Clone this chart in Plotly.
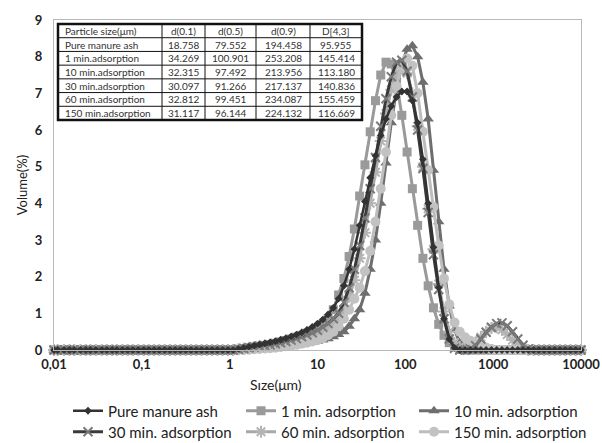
import plotly.graph_objects as go

# ---------------- data ----------------
size_um = [
    0.010, 0.011, 0.013, 0.015, 0.017, 0.020, 0.023, 0.026, 0.030, 0.035,
    0.040, 0.046, 0.052, 0.060, 0.069, 0.079, 0.091, 0.105, 0.120, 0.138,
    0.158, 0.182, 0.209, 0.240, 0.275, 0.316, 0.363, 0.417, 0.479, 0.550,
    0.631, 0.724, 0.832, 0.955, 1.096, 1.259, 1.445, 1.660, 1.905, 2.188,
    2.512, 2.884, 3.311, 3.802, 4.365, 5.012, 5.754, 6.607, 7.586, 8.710,
    10.000, 11.482, 13.183, 15.136, 17.378, 19.953, 22.909, 26.303, 30.200, 34.674,
    39.811, 45.709, 52.481, 60.256, 69.183, 79.433, 91.201, 104.713, 120.226, 138.038,
    158.489, 181.970, 208.930, 239.883, 275.423, 316.228, 363.078, 416.869, 478.630, 549.541,
    630.957, 724.436, 831.764, 954.993, 1096.478, 1258.925, 1445.440, 1659.587, 1905.461, 2187.762,
    2511.886, 2884.032, 3311.311, 3801.894, 4365.158, 5011.872, 5754.399, 6606.934, 7585.776, 8709.636,
    10000.000,
]

pure_manure_ash = [
    0, 0, 0, 0, 0, 0, 0, 0, 0, 0,
    0, 0, 0, 0, 0, 0, 0, 0, 0, 0,
    0, 0, 0, 0, 0, 0, 0, 0, 0, 0,
    0, 0, 0, 0, 0, 0.03, 0.06, 0.09, 0.12, 0.15,
    0.18, 0.21, 0.24, 0.28, 0.32, 0.37, 0.42, 0.48, 0.55, 0.63,
    0.72, 0.83, 0.97, 1.15, 1.40, 1.75, 2.20, 2.75, 3.40, 4.05,
    4.70, 5.30, 5.85, 6.30, 6.65, 6.90, 7.05, 7.05, 6.80, 6.20,
    5.20, 4.00, 2.80, 1.70, 0.85, 0.30, 0.06, 0, 0, 0,
    0, 0, 0, 0, 0, 0, 0, 0, 0, 0,
    0, 0, 0, 0, 0, 0, 0, 0, 0, 0,
    0,
]

ads_1min = [
    0, 0, 0, 0, 0, 0, 0, 0, 0, 0,
    0, 0, 0, 0, 0, 0, 0, 0, 0, 0,
    0, 0, 0, 0, 0, 0, 0, 0, 0, 0,
    0, 0, 0, 0, 0, 0.02, 0.04, 0.06, 0.08, 0.10,
    0.12, 0.15, 0.18, 0.22, 0.26, 0.30, 0.35, 0.40, 0.46, 0.52,
    0.60, 0.70, 0.85, 1.10, 1.50, 1.95, 2.55, 3.30, 4.20, 5.05,
    5.95, 6.80, 7.50, 7.85, 7.80, 7.30, 6.40, 5.40, 4.40, 3.40,
    2.50, 1.75, 1.15, 0.70, 0.40, 0.20, 0.08, 0.02, 0, 0,
    0, 0, 0, 0, 0, 0, 0, 0, 0, 0,
    0, 0, 0, 0, 0, 0, 0, 0, 0, 0,
    0,
]

ads_10min = [
    0, 0, 0, 0, 0, 0, 0, 0, 0, 0,
    0, 0, 0, 0, 0, 0, 0, 0, 0, 0,
    0, 0, 0, 0, 0, 0, 0, 0, 0, 0,
    0, 0, 0, 0, 0, 0, 0, 0, 0.01, 0.02,
    0.03, 0.04, 0.05, 0.07, 0.09, 0.11, 0.13, 0.15, 0.18, 0.21,
    0.24, 0.27, 0.31, 0.36, 0.42, 0.50, 0.65, 0.85, 1.10, 1.55,
    2.20, 3.00, 4.00, 5.10, 6.20, 7.10, 7.80, 8.20, 8.30, 8.00,
    7.30, 6.30, 4.90, 3.50, 2.20, 1.20, 0.55, 0.20, 0.05, 0,
    0, 0, 0, 0, 0, 0, 0, 0, 0, 0,
    0, 0, 0, 0, 0, 0, 0, 0, 0, 0,
    0,
]

ads_30min = [
    0, 0, 0, 0, 0, 0, 0, 0, 0, 0,
    0, 0, 0, 0, 0, 0, 0, 0, 0, 0,
    0, 0, 0, 0, 0, 0, 0, 0, 0, 0,
    0, 0, 0, 0, 0, 0.02, 0.04, 0.06, 0.08, 0.10,
    0.12, 0.14, 0.17, 0.20, 0.23, 0.27, 0.31, 0.36, 0.41, 0.47,
    0.54, 0.62, 0.72, 0.85, 1.00, 1.30, 1.70, 2.20, 2.85, 3.60,
    4.40, 5.25, 6.10, 6.85, 7.45, 7.85, 7.90, 7.60, 6.90, 6.00,
    4.95, 3.75, 2.60, 1.65, 0.85, 0.30, 0.05, 0, 0, 0.03,
    0.12, 0.30, 0.48, 0.62, 0.72, 0.74, 0.66, 0.50, 0.30, 0.13,
    0.03, 0, 0, 0, 0, 0, 0, 0, 0, 0,
    0,
]

ads_60min = [
    0, 0, 0, 0, 0, 0, 0, 0, 0, 0,
    0, 0, 0, 0, 0, 0, 0, 0, 0, 0,
    0, 0, 0, 0, 0, 0, 0, 0, 0, 0,
    0, 0, 0, 0, 0, 0.02, 0.04, 0.06, 0.08, 0.10,
    0.12, 0.14, 0.16, 0.19, 0.22, 0.25, 0.29, 0.33, 0.37, 0.41,
    0.45, 0.52, 0.60, 0.70, 0.85, 1.10, 1.45, 1.90, 2.50, 3.20,
    4.00, 4.85, 5.70, 6.45, 7.10, 7.55, 7.70, 7.55, 7.00, 6.10,
    5.00, 3.85, 2.75, 1.80, 1.05, 0.50, 0.20, 0.08, 0.05, 0.10,
    0.20, 0.35, 0.50, 0.60, 0.62, 0.55, 0.42, 0.27, 0.13, 0.04,
    0, 0, 0, 0, 0, 0, 0, 0, 0, 0,
    0,
]

ads_150min = [
    0, 0, 0, 0, 0, 0, 0, 0, 0, 0,
    0, 0, 0, 0, 0, 0, 0, 0, 0, 0,
    0, 0, 0, 0, 0, 0, 0, 0, 0, 0,
    0, 0, 0, 0, 0, 0, 0, 0.01, 0.02, 0.03,
    0.04, 0.05, 0.06, 0.08, 0.10, 0.12, 0.14, 0.17, 0.20, 0.23,
    0.27, 0.32, 0.40, 0.50, 0.65, 0.85, 1.10, 1.40, 1.70, 2.15,
    2.70, 3.50, 4.40, 5.40, 6.40, 7.20, 7.75, 7.95, 7.75, 7.00,
    5.95, 4.90, 3.90, 2.85, 1.95, 1.25, 0.75, 0.50, 0.35, 0.25,
    0.18, 0.12, 0.07, 0.03, 0, 0, 0, 0, 0, 0,
    0, 0, 0, 0, 0, 0, 0, 0, 0, 0,
    0,
]

series_names = ["Pure manure ash", "1 min. adsorption", "10 min. adsorption",
                "30 min. adsorption", "60 min. adsorption", "150 min. adsorption"]

x_tickvals = [0.01, 0.1, 1, 10, 100, 1000, 10000]
x_ticktext = ["0,01", "0,1", "1", "10", "100", "1000", "10000"]
y_tickvals = [0, 1, 2, 3, 4, 5, 6, 7, 8, 9]

table_header = ["Particle size(μm)", "d(0.1)", "d(0.5)", "d(0.9)", "D[4,3]"]
table_names = ["Pure manure ash", "1 min.adsorption", "10 min.adsorption",
               "30 min.adsorption", "60 min.adsorption", "150 min.adsorption"]
table_d01 = ["18.758", "34.269", "32.315", "30.097", "32.812", "31.117"]
table_d05 = ["79.552", "100.901", "97.492", "91.266", "99.451", "96.144"]
table_d09 = ["194.458", "253.208", "213.956", "217.137", "234.087", "224.132"]
table_d43 = ["95.955", "145.414", "113.180", "140.836", "155.459", "116.669"]

# ---------------- layout geometry (pixels) ----------------
W, H = 602, 443
PL, PR, PT, PB = 54, 581, 20, 350   # plot area
FONT = "Lato, 'Open Sans', sans-serif"


def px_x(px):
    return (px - PL) / (PR - PL)


def px_y(py):
    return (PB - py) / (PB - PT)


fig = go.Figure()

styles = {
    "1 min. adsorption": dict(line=dict(color="#9a9a9a", width=3),
                              marker=dict(symbol="square", size=9, color="#9a9a9a")),
    "10 min. adsorption": dict(line=dict(color="#6e6e6e", width=3),
                               marker=dict(symbol="triangle-up", size=10, color="#6e6e6e")),
    "60 min. adsorption": dict(line=dict(color="#a8a8a8", width=3),
                               marker=dict(symbol="asterisk-open", size=10, color="#b4b4b4",
                                           line=dict(color="#b4b4b4", width=2))),
    "150 min. adsorption": dict(line=dict(color="#bdbdbd", width=3),
                                marker=dict(symbol="circle", size=10, color="#c2c2c2")),
    "30 min. adsorption": dict(line=dict(color="#3a3a3a", width=3),
                               marker=dict(symbol="x-thin-open", size=9, color="#7a7a7a",
                                           line=dict(color="#7a7a7a", width=2))),
    "Pure manure ash": dict(line=dict(color="#333333", width=2.5),
                            marker=dict(symbol="diamond", size=6, color="#333333")),
}
data_map = {
    "Pure manure ash": pure_manure_ash,
    "1 min. adsorption": ads_1min,
    "10 min. adsorption": ads_10min,
    "30 min. adsorption": ads_30min,
    "60 min. adsorption": ads_60min,
    "150 min. adsorption": ads_150min,
}
draw_order = ["1 min. adsorption", "10 min. adsorption", "60 min. adsorption",
              "150 min. adsorption", "30 min. adsorption", "Pure manure ash"]
row1 = series_names[:3]

for name in draw_order:
    st = styles[name]
    fig.add_trace(go.Scatter(
        x=size_um, y=data_map[name], name=name, mode="lines+markers",
        line=st["line"], marker=st["marker"], cliponaxis=False,
        legendrank=series_names.index(name) + 1,
        legend="legend" if name in row1 else "legend2",
    ))

axis_font = dict(family=FONT, size=13, color="#222222", weight="bold")
fig.update_xaxes(type="log", range=[-2, 4], tickvals=x_tickvals, ticktext=x_ticktext,
                 showgrid=False, zeroline=False, showline=True, mirror=True,
                 linecolor="#b8b8b8", linewidth=1, ticks="", tickfont=axis_font,
                 ticklabelstandoff=2, automargin=False)
fig.update_yaxes(range=[0, 9], tickvals=y_tickvals, showgrid=False, zeroline=False,
                 showline=True, mirror=True, linecolor="#b8b8b8", linewidth=1, ticks="",
                 tickfont=axis_font, ticklabelstandoff=8, automargin=False,
                 title=dict(text="Volume(%)", font=dict(family=FONT, size=13, color="#222222"),
                            standoff=4))

annotations = [dict(text="Sıze(μm)", xref="paper", yref="paper", x=px_x(276), y=px_y(385),
                    showarrow=False, font=dict(family=FONT, size=14, color="#222222"),
                    xanchor="center", yanchor="middle")]
shapes = []

# ---- table drawn with shapes + annotations ----
col_edges = [58, 162, 205, 256, 310, 362]
row_top, row_bot = 24, 120
n_rows = 1 + len(table_names)
row_h = (row_bot - row_top) / n_rows
for ce in col_edges[1:-1]:
    shapes.append(dict(type="line", xref="paper", yref="paper",
                       x0=px_x(ce), x1=px_x(ce), y0=px_y(row_top), y1=px_y(row_bot),
                       line=dict(color="#111111", width=1)))
for r in range(1, n_rows):
    yy = row_top + r * row_h
    shapes.append(dict(type="line", xref="paper", yref="paper",
                       x0=px_x(col_edges[0]), x1=px_x(col_edges[-1]), y0=px_y(yy), y1=px_y(yy),
                       line=dict(color="#111111", width=1)))
shapes.append(dict(type="rect", xref="paper", yref="paper",
                   x0=px_x(col_edges[0]), x1=px_x(col_edges[-1]),
                   y0=px_y(row_top), y1=px_y(row_bot),
                   line=dict(color="#111111", width=2.5), fillcolor="rgba(0,0,0,0)"))

table_cols = [table_names, table_d01, table_d05, table_d09, table_d43]
tfont = dict(family=FONT, size=10, color="#333333")
for r in range(n_rows):
    yc = row_top + (r + 0.5) * row_h
    for c in range(5):
        txt = table_header[c] if r == 0 else table_cols[c][r - 1]
        if c == 0:
            annotations.append(dict(text=txt, xref="paper", yref="paper",
                                    x=px_x(col_edges[0] + 5), y=px_y(yc), xanchor="left",
                                    yanchor="middle", showarrow=False, font=tfont))
        else:
            annotations.append(dict(text=txt, xref="paper", yref="paper",
                                    x=px_x((col_edges[c] + col_edges[c + 1]) / 2), y=px_y(yc),
                                    xanchor="center", yanchor="middle", showarrow=False,
                                    font=tfont))

legend_common = dict(orientation="h", xref="container", yref="container",
                     xanchor="left", yanchor="middle",
                     font=dict(family=FONT, size=15, color="#222222"),
                     entrywidth=128, entrywidthmode="pixels",
                     bgcolor="rgba(0,0,0,0)", itemwidth=30)

fig.update_layout(
    width=W, height=H,
    margin=dict(l=PL, r=W - PR, t=PT, b=H - PB, pad=0, autoexpand=False),
    paper_bgcolor="white", plot_bgcolor="white",
    showlegend=True,
    legend=dict(x=68 / W, y=1 - 411 / H, **legend_common),
    legend2=dict(x=68 / W, y=1 - 432 / H, **legend_common),
    annotations=annotations,
    shapes=shapes,
)

fig.write_html("out.html")
